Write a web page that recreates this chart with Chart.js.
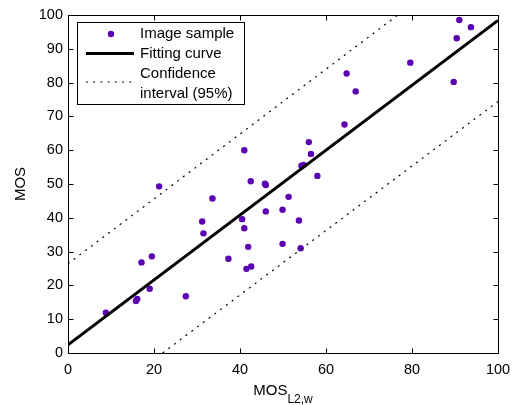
<!DOCTYPE html>
<html><head><meta charset="utf-8">
<script src="https://cdn.jsdelivr.net/npm/chart.js@4"></script>
<style>html,body{margin:0;padding:0;background:#fff}</style>
</head><body>
<canvas id="c" width="519" height="405"></canvas>
<script>
const sampleX = [8.8,15.8,16.1,17.1,19.0,19.5,21.2,27.4,31.2,31.5,33.6,37.3,40.5,41.0,41.0,41.9,41.5,42.6,42.5,45.8,46.0,46.0,49.9,49.9,51.3,53.7,54.1,54.3,54.8,56.0,56.5,58.0,64.3,64.8,66.9,79.6,89.7,90.4,91.0,93.7];
const sampleY = [11.9,15.4,16.0,26.8,19.0,28.6,49.3,16.8,38.9,35.4,45.7,27.9,39.6,36.9,60.0,31.4,24.9,25.6,50.8,50.1,49.7,41.9,42.4,32.3,46.2,39.2,31.0,55.4,55.6,62.4,58.9,52.4,67.6,82.7,77.4,85.9,80.2,93.1,98.5,96.4];
const fitX = [0, 100];
const fitY = [2.4, 98.4];
const upperX = [0, 76.7];
const upperY = [26.4, 100];
const lowerX = [22, 100];
const lowerY = [0, 74.4];
const xTicks = [0, 20, 40, 60, 80, 100];
const yTicks = [0, 10, 20, 30, 40, 50, 60, 70, 80, 90, 100];
const legendLabels = ["Image sample", "Fitting curve", "Confidence", "interval (95%)"];
const xTitleMain = "MOS";
const xTitleSub = "L2,w";
const yTitle = "MOS";

const FONT = "'Liberation Sans', Arial, Helvetica, sans-serif";
const PURPLE = "rgb(90,0,178)";
const DOT = [2, 5.2];
const pts = (xs, ys) => xs.map((x, i) => ({x: x, y: ys[i]}));

const decor = {
  id: 'decor',
  afterDraw(chart) {
    const ctx = chart.ctx, a = chart.chartArea;
    const xs = chart.scales.x, ys = chart.scales.y;
    ctx.save();
    ctx.strokeStyle = '#000';
    ctx.lineWidth = 1;
    const L = Math.round(a.left) + 0.5, R = Math.round(a.right) + 0.5;
    const T = Math.round(a.top) + 0.5, B = Math.round(a.bottom) + 0.5;
    ctx.strokeRect(L, T, R - L, B - T);
    const tl = 5;
    ctx.beginPath();
    xTicks.forEach(v => {
      const p = Math.round(xs.getPixelForValue(v)) + 0.5;
      ctx.moveTo(p, B); ctx.lineTo(p, B - tl);
      ctx.moveTo(p, T); ctx.lineTo(p, T + tl);
    });
    yTicks.forEach(v => {
      const p = Math.round(ys.getPixelForValue(v)) + 0.5;
      ctx.moveTo(L, p); ctx.lineTo(L + tl, p);
      ctx.moveTo(R, p); ctx.lineTo(R - tl, p);
    });
    ctx.stroke();

    // legend
    const lx = a.left + 9, ly = a.top + 7;
    ctx.fillStyle = '#fff';
    ctx.fillRect(lx, ly, 167, 82);
    ctx.strokeRect(Math.round(lx) + 0.5, Math.round(ly) + 0.5, 167, 82);
    ctx.fillStyle = PURPLE;
    ctx.beginPath(); ctx.arc(lx + 34, ly + 12, 3.2, 0, Math.PI * 2); ctx.fill();
    ctx.lineWidth = 3;
    ctx.beginPath(); ctx.moveTo(lx + 9, ly + 31.5); ctx.lineTo(lx + 57, ly + 31.5); ctx.stroke();
    ctx.lineWidth = 1.2;
    ctx.setLineDash(DOT);
    ctx.beginPath(); ctx.moveTo(lx + 9, ly + 60); ctx.lineTo(lx + 57, ly + 60); ctx.stroke();
    ctx.setLineDash([]);
    ctx.fillStyle = '#000';
    ctx.font = "15px " + FONT;
    ctx.textAlign = 'left'; ctx.textBaseline = 'middle';
    const rows = [12, 32, 52, 71.5];
    legendLabels.forEach((t, i) => ctx.fillText(t, lx + 63, ly + rows[i]));

    // x title with subscript
    ctx.font = "15px " + FONT;
    const w1 = ctx.measureText(xTitleMain).width;
    ctx.font = "12px " + FONT;
    const w2 = ctx.measureText(xTitleSub).width;
    const cx = (a.left + a.right) / 2;
    const sx = cx - (w1 + w2) / 2;
    ctx.textBaseline = 'alphabetic';
    ctx.font = "15px " + FONT;
    ctx.fillText(xTitleMain, sx, 395);
    ctx.font = "12px " + FONT;
    ctx.fillText(xTitleSub, sx + w1, 403);
    ctx.restore();
  }
};

new Chart(document.getElementById('c'), {
  type: 'scatter',
  data: {
    datasets: [
      {data: pts(upperX, upperY), showLine: true, borderColor: '#000', borderWidth: 1.2, borderDash: DOT, pointRadius: 0, fill: false},
      {data: pts(lowerX, lowerY), showLine: true, borderColor: '#000', borderWidth: 1.2, borderDash: DOT, pointRadius: 0, fill: false},
      {data: pts(fitX, fitY), showLine: true, borderColor: '#000', borderWidth: 3, pointRadius: 0, fill: false},
      {data: pts(sampleX, sampleY), backgroundColor: PURPLE, borderColor: PURPLE, borderWidth: 0, pointRadius: 3.2}
    ]
  },
  options: {
    responsive: false,
    animation: false,
    events: [],
    layout: {padding: {left: 0, right: 21, top: 15, bottom: 0}},
    plugins: {legend: {display: false}, tooltip: {enabled: false}},
    scales: {
      x: {
        type: 'linear', min: 0, max: 100,
        afterBuildTicks: s => { s.ticks = xTicks.map(v => ({value: v})); },
        afterFit: s => { s.height = 52; },
        grid: {display: false, drawTicks: false},
        border: {display: false},
        ticks: {color: '#000', padding: 8, maxRotation: 0, font: {family: FONT, size: 14.5}}
      },
      y: {
        type: 'linear', min: 0, max: 100,
        afterBuildTicks: s => { s.ticks = yTicks.map(v => ({value: v})); },
        afterFit: s => { s.width = 68; },
        grid: {display: false, drawTicks: false},
        border: {display: false},
        ticks: {color: '#000', padding: 5, font: {family: FONT, size: 14.5}},
        title: {display: true, text: yTitle, color: '#000', padding: {top: 12, bottom: 0}, font: {family: FONT, size: 15}}
      }
    }
  },
  plugins: [decor]
});
</script>
</body></html>
